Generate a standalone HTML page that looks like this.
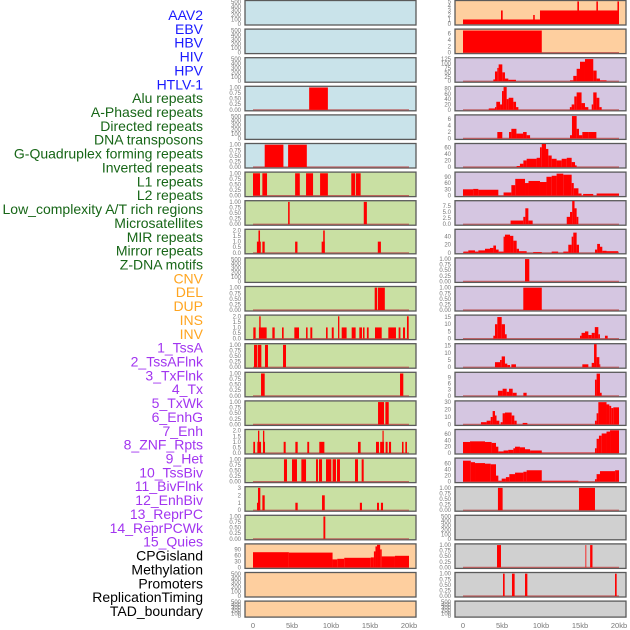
<!DOCTYPE html>
<html><head><meta charset="utf-8"><style>
html,body{margin:0;padding:0;background:#fff;width:630px;height:630px;overflow:hidden}
svg{display:block}
text{font-family:"Liberation Sans",sans-serif}
</style></head><body>
<svg id="chart" width="630" height="630" viewBox="0 0 630 630" xmlns="http://www.w3.org/2000/svg"></svg>
<script>
// ---- labels ----
const trackLabels = ["AAV2","EBV","HBV","HIV","HPV","HTLV-1","Alu repeats","A-Phased repeats","Directed repeats","DNA transposons","G-Quadruplex forming repeats","Inverted repeats","L1 repeats","L2 repeats","Low_complexity A/T rich regions","Microsatellites","MIR repeats","Mirror repeats","Z-DNA motifs","CNV","DEL","DUP","INS","INV","1_TssA","2_TssAFlnk","3_TxFlnk","4_Tx","5_TxWk","6_EnhG","7_Enh","8_ZNF_Rpts","9_Het","10_TssBiv","11_BivFlnk","12_EnhBiv","13_ReprPC","14_ReprPCWk","15_Quies","CPGisland","Methylation","Promoters","ReplicationTiming","TAD_boundary"];
const labelGroups = [6,13,5,15,5];
const xTickValues = [0,5,10,15,20];
const xTickLabels = ["0","5kb","10kb","15kb","20kb"];
// ---- tick label sets ----
const tEmpty = [0,100,200,300,400,500];
const tOne = [0,0.25,0.5,0.75,1];
const tTwo = [0,0.5,1,1.5,2];
const tThree = [0,1,2,3];
// ---- left column data [startKb,endKb,value] ----
const lHIV = [[7.2,9.6,1]];
const lHTLV = [[1.5,3.9,1],[4.5,6.9,1]];
const lAlu = [[0,0.9,1],[1.2,1.8,1],[5.4,6.0,1],[6.8,7.7,1],[8.6,9.6,1],[12.6,13.1,1],[13.2,13.8,1]];
const lAPhased = [[4.5,4.7,1],[14.2,14.6,1]];
const lDirected = [[0.5,1.0,1],[0.7,0.9,2],[1.2,1.5,1],[5.4,5.7,1],[8.8,9.2,1],[9.0,9.2,2],[16.0,16.4,1]];
const lGQuad = [[15.6,15.9,1],[16.0,16.9,1]];
const lInverted = [[0.04,0.34,1],[0.76,1.75,1],[0.8,0.98,2],[2.48,2.78,1],[3.72,3.93,1],[5.3,5.9,1],[6.8,7.0,1],[7.35,7.6,1],[9.36,9.57,1],[10.1,10.35,1],[10.9,11.07,2],[11.37,12.0,1],[12.65,13.16,1],[13.63,13.97,1],[14.1,14.3,1],[14.6,14.83,1],[15.64,16.5,1],[17.35,18.33,1],[18.67,18.9,1],[19.23,19.49,1],[19.74,19.96,2]];
const lL1 = [[0.13,0.56,1],[0.64,1.07,1],[1.54,1.92,1],[3.85,4.23,1]];
const lL2 = [[1.03,1.5,1],[18.85,19.27,1]];
const lLowComp = [[16.03,16.8,1],[16.97,17.4,1]];
const lMicro = [[0.04,0.26,1],[0.56,1.03,1],[0.64,0.81,2],[1.28,1.54,1],[1.28,1.45,2],[3.93,4.19,1],[5.43,5.73,1],[6.96,7.2,1],[8.5,9.15,1],[13.46,13.8,1],[15.77,16.15,1],[16.3,16.8,1],[16.6,16.75,2],[17.0,17.26,1],[17.43,17.7,1],[19.1,19.3,1],[19.53,19.74,1]];
const lMIR = [[3.97,4.36,1],[5.0,5.64,1],[6.2,6.8,1],[8.08,8.33,1],[8.46,8.85,1],[9.36,10.04,1],[10.21,10.64,1],[10.77,11.15,1],[13.08,13.46,1],[13.93,14.19,1]];
const lMirror = [[0.51,0.77,1],[0.64,0.94,3],[1.2,1.5,2],[5.43,5.73,1],[8.85,9.2,2],[13.7,13.97,1],[15.9,16.15,1],[16.4,16.67,1]];
const lZDNA = [[9.03,9.27,1]];
const lCNV = [[0,4.6,76],[4.6,10.2,74],[10.2,10.8,40],[10.8,11.7,43],[11.7,15.1,48],[15.1,15.5,50],[15.5,15.7,80],[15.7,15.9,105],[15.9,16.3,113],[16.3,16.5,90],[16.5,18.2,55],[18.2,20,58]];
// ---- right column data ----
const rA = [[0,9.87,1],[9.87,20,3],[4.87,5.09,3],[9.0,9.2,2],[14.66,14.87,5],[17.1,17.3,5],[19.8,20,5]];
const rB = [[0,10.1,7]];
const rC = [[3.89,4.1,10],[4.1,4.4,55],[4.4,4.57,75],[4.57,5.04,95],[5.04,5.38,50],[5.38,5.81,15],[5.81,6.79,8],[13.72,14.14,5],[14.14,14.57,30],[14.57,15.0,70],[15.0,15.64,110],[15.64,16.7,125],[16.7,17.13,60],[17.13,17.56,15],[17.56,18.4,5]];
const rD = [[3.3,4.1,5],[4.1,4.27,10],[4.27,4.75,30],[4.75,5.0,20],[5.0,5.2,70],[5.2,5.6,85],[5.6,5.85,40],[5.85,6.45,45],[6.45,6.8,30],[6.8,7.1,10],[13.7,13.93,10],[13.93,14.27,20],[14.27,14.57,50],[14.57,15.2,65],[15.2,15.64,25],[15.64,16.07,10],[16.5,16.7,20],[16.7,17.13,65],[17.13,17.48,45],[17.48,17.78,10]];
const rE = [[4.4,5.04,2],[5.9,6.2,2],[6.2,6.85,3],[6.85,7.7,1.5],[7.7,8.16,2],[8.16,8.6,1],[13.72,13.97,1],[13.97,14.57,7],[14.57,14.87,3],[14.87,15.3,1],[15.3,16.07,2],[16.07,17.1,2]];
const rF = [[6.88,7.3,3],[7.3,7.74,10],[7.74,8.16,20],[8.16,9.44,25],[9.44,9.87,28],[9.87,10.1,60],[10.1,10.64,70],[10.64,10.94,55],[10.94,11.37,35],[11.37,12.0,25],[12.0,12.65,20],[12.65,13.3,25],[13.3,13.93,28],[13.93,14.36,15],[14.36,14.57,5]];
const rG = [[0,1.3,30],[1.3,1.97,32],[1.97,4.53,28],[5.2,6.2,15],[6.2,6.7,50],[6.7,7.95,80],[7.95,8.4,60],[8.4,9.87,70],[9.87,10.7,65],[10.7,11.37,90],[11.37,12.0,95],[12.0,12.86,105],[12.86,13.93,100],[13.93,14.2,60],[14.2,14.8,35],[14.8,15.2,10],[15.4,16.7,8],[17.13,20,10]];
const rH = [[6.1,7.73,1.5],[7.73,7.99,3],[7.99,8.38,6.5],[8.38,8.93,1.5],[13.3,13.72,3],[13.72,14.0,5],[14.0,14.3,9.5],[14.3,14.57,6.5],[14.57,14.79,3]];
const rI = [[0.05,0.68,3],[0.68,1.54,6],[1.54,1.97,3],[1.97,2.82,6],[2.82,3.46,10],[3.46,3.89,12],[3.89,4.23,18],[4.23,4.57,8],[4.57,5.2,3],[5.2,5.38,40],[5.38,6.03,45],[6.03,6.45,42],[6.45,6.88,30],[6.88,7.18,10],[7.18,8.16,4],[9.0,10.1,2],[11.37,12.2,3],[12.86,13.5,3],[13.5,13.93,20],[13.93,14.14,40],[14.14,14.57,50],[14.57,14.87,20],[16.92,17.2,8],[17.2,17.56,22],[17.56,17.86,15],[17.86,18.4,5],[18.4,19.9,4]];
const rJ = [[7.95,8.5,1]];
const rK = [[7.73,10.1,1]];
const rL = [[3.89,4.1,2],[4.1,4.4,10],[4.4,4.96,15],[4.96,5.38,10],[5.38,5.6,3],[15.0,15.2,2],[15.2,15.64,4],[15.64,16.07,5],[16.07,16.5,2.5],[16.5,16.9,4],[16.9,17.35,8],[17.35,17.56,3],[18.2,18.55,2]];
const rM = [[4.1,4.75,3.5],[4.75,4.96,5],[4.96,5.38,7.5],[5.38,5.68,2.5],[5.68,6.03,1.5],[6.2,6.79,2],[15.3,16.07,2],[16.5,16.8,3],[16.8,17.13,16],[17.13,17.48,7],[17.48,17.6,2]];
const rN = [[4.48,5.08,2.5],[5.08,5.6,3.5],[5.6,5.9,2],[5.9,6.37,3.5],[6.37,6.88,1.5],[7.74,8.16,1.5],[16.92,17.13,8],[17.13,17.56,11],[17.56,17.78,1.5]];
const rO = [[2.3,3.03,3],[3.03,3.55,5],[3.55,3.8,10],[3.8,4.1,18],[4.1,4.3,12],[4.3,4.66,5],[4.83,5.08,3],[5.08,5.38,15],[5.38,6.24,16],[6.24,6.58,12],[6.58,6.88,5],[7.65,8.25,2],[16.92,17.13,5],[17.13,17.35,15],[17.35,18.4,30],[18.4,18.76,27],[18.76,19.0,25],[19.0,19.27,22],[19.27,20,23]];
const rP = [[0,0.9,35],[0.9,2.82,37],[2.82,3.67,35],[3.67,4.23,32],[4.23,4.53,20],[4.53,5.2,5],[5.2,5.8,8],[5.8,6.45,10],[6.45,6.67,15],[6.67,7.3,20],[7.3,7.95,18],[7.95,8.6,12],[8.6,10.1,8],[10.1,16.92,1],[16.92,17.13,15],[17.13,17.43,45],[17.43,17.78,55],[17.78,18.4,62],[18.4,18.85,68],[18.85,20,72]];
const rQ = [[0,1.0,70],[1.0,1.54,65],[1.54,2.82,62],[2.82,3.55,60],[3.55,4.23,58],[4.23,4.53,20],[4.53,4.96,3],[4.96,5.5,10],[5.5,5.94,15],[5.94,6.67,25],[6.67,7.74,30],[7.74,8.16,33],[8.16,10.1,38],[10.1,14.79,3],[16.92,17.13,8],[17.13,17.56,25],[17.56,19.5,35],[19.5,20,38]];
const rR = [[4.48,5.08,1],[14.87,16.92,1]];
const rS = [[4.36,4.87,1],[15.7,15.8,1],[16.3,16.6,1]];
const rT = [[5.13,5.34,1],[6.28,6.62,1],[7.95,8.25,1],[19.49,19.7,1]];

const BLUE="#c9e3ea",GREEN="#c9e0a3",ORANGE="#fecf9f",PURPLE="#d5c6e1",GREY="#d0d0d0";
const leftTracks = [
 [BLUE,[],520,tEmpty],[BLUE,[],520,tEmpty],[BLUE,[],520,tEmpty],[BLUE,lHIV,1.03,tOne],[BLUE,[],520,tEmpty],[BLUE,lHTLV,1.03,tOne],
 [GREEN,lAlu,1.03,tOne],[GREEN,lAPhased,1.03,tOne],[GREEN,lDirected,2.06,tTwo],[GREEN,[],520,tEmpty],[GREEN,lGQuad,1.03,tOne],[GREEN,lInverted,2.06,tTwo],
 [GREEN,lL1,1.03,tOne],[GREEN,lL2,1.03,tOne],[GREEN,lLowComp,1.03,tOne],[GREEN,lMicro,2.06,tTwo],[GREEN,lMIR,1.03,tOne],[GREEN,lMirror,3.09,tThree],[GREEN,lZDNA,1.03,tOne],
 [ORANGE,lCNV,115,[0,30,60,90]],[ORANGE,[],520,tEmpty],[ORANGE,[],520,tEmpty]
];
const rightTracks = [
 [ORANGE,rA,5.1,[0,1,2,3,4,5]],[ORANGE,rB,7.3,[0,2,4,6]],
 [PURPLE,rC,130,[0,25,50,75,100,125]],[PURPLE,rD,86,[0,20,40,60,80]],[PURPLE,rE,7.2,[0,2,4,6]],[PURPLE,rF,70,[0,20,40,60]],[PURPLE,rG,110,[0,30,60,90]],
 [PURPLE,rH,9.4,[0,2.5,5,7.5]],[PURPLE,rI,57,[0,20,40]],[PURPLE,rJ,1.03,tOne],[PURPLE,rK,1.03,tOne],[PURPLE,rL,16,[0,5,10,15]],[PURPLE,rM,16,[0,5,10,15]],
 [PURPLE,rN,11.4,[0,3,6,9]],[PURPLE,rO,31,[0,10,20,30]],[PURPLE,rP,73,[0,20,40,60]],[PURPLE,rQ,77,[0,20,40,60]],
 [GREY,rR,1.03,tOne],[GREY,[],520,tEmpty],[GREY,rS,1.03,tOne],[GREY,rT,1.03,tOne],[GREY,[],520,tEmpty]
];

const NS="http://www.w3.org/2000/svg";
const svg=document.getElementById('chart');
function mk(tag,attrs,parent){const e=document.createElementNS(NS,tag);for(const k in attrs)e.setAttribute(k,attrs[k]);(parent||svg).appendChild(e);return e;}
function fmt(v,ticks){const mx=Math.max(...ticks);if(ticks.some(t=>t%1!==0)){return (mx<=1)?v.toFixed(2):v.toFixed(1);}return String(v);}

// labels
const groupColors=["#1a1aff","#176617","#ffa520","#a235f0","#000000"];
let gi=0,cnt=0;
trackLabels.forEach((lab,i)=>{
  while(cnt>=labelGroups[gi]){cnt=0;gi++;}
  cnt++;
  const t=mk('text',{x:203,y:15+i*13.86+5,'text-anchor':'end','font-size':14,fill:groupColors[gi]});
  t.textContent=lab;
  
  
});

function drawColumn(tracks,x0,x1,dx0,dx1,colName){
  const xs=kb=>dx0+(kb/20)*(dx1-dx0);
  tracks.forEach((tr,i)=>{
    const [bg,data,ymax,ticks]=tr;
    const top=0.5+i*28.6;
    const h=(i===21)?16:24.5;
    const bottom=top+h;
    const ys=v=>bottom-1-(v/ymax)*(h-1.5);
    const g=mk('g',{});
    
    
    mk('rect',{x:x0,y:top,width:x1-x0,height:h,fill:bg,stroke:'#5a5a5a','stroke-width':1.3},g);
    if(data.length){
      mk('line',{x1:xs(0),x2:xs(20),y1:bottom-1,y2:bottom-1,stroke:'#b84a4a','stroke-width':1.2,'stroke-opacity':0.8},g);
    }
    data.forEach(d=>{
      const r=mk('rect',{x:xs(d[0]),y:ys(d[2]),width:Math.max(0.8,xs(d[1])-xs(d[0])),height:ys(0)-ys(d[2]),fill:'#ff0000'},g);
      
      
    });
    ticks.forEach(v=>{
      const t=mk('text',{x:x0-4,y:ys(v)+2,'text-anchor':'end','font-size':6,fill:'#777'},g);
      t.textContent=fmt(v,ticks);
      
      
    });
  });
  xTickValues.forEach((v,k)=>{
    const t=mk('text',{x:xs(v),y:628,'text-anchor':'middle','font-size':7.5,fill:'#777'});
    t.textContent=xTickLabels[k];
    
    
  });
}
drawColumn(leftTracks,245,416,253,409,'left');
drawColumn(rightTracks,455,626,463,619,'right');
</script>
</body></html>
